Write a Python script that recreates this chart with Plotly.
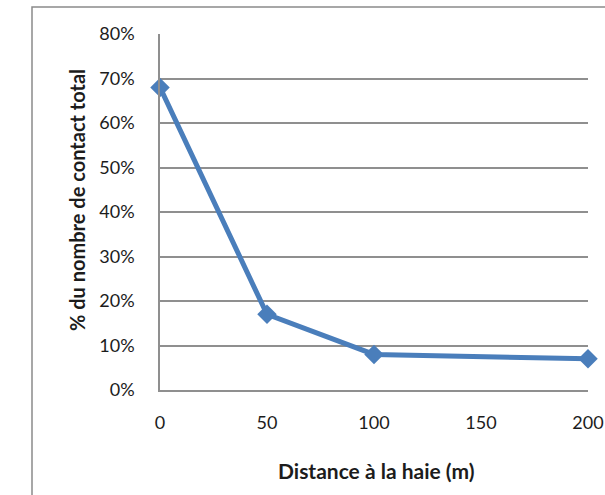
import plotly.graph_objects as go

# Share of total contacts by distance from the hedge
distance_m = [0, 50, 100, 200]
share_pct = [68, 17, 8, 7]
x_ticks = [0, 50, 100, 150, 200]
y_ticks = [0, 10, 20, 30, 40, 50, 60, 70, 80]
y_tick_labels = [f"{v}%" for v in y_ticks]

FONT = "Lato, 'Open Sans', sans-serif"
TEXT = "#1c1c1c"
GRID = "#8f8f8f"
BLUE = "#4a7ebb"

W, H = 605, 495
L, R, T, B = 160, 17, 34, 105
PW, PH = W - L - R, H - T - B


def px(xp):
    return (xp - L) / PW


def py(yp):
    return (H - B - yp) / PH


fig = go.Figure()
fig.add_trace(go.Scatter(
    x=distance_m,
    y=share_pct,
    mode="lines+markers",
    line=dict(color=BLUE, width=5),
    marker=dict(symbol="diamond", size=15, color=BLUE),
    cliponaxis=False,
    showlegend=False,
))

fig.update_layout(
    width=W,
    height=H,
    margin=dict(l=L, r=R, t=T, b=B, autoexpand=False),
    paper_bgcolor="white",
    plot_bgcolor="white",
    font=dict(family=FONT, size=18, color=TEXT),
    xaxis=dict(
        range=[0, 200],
        tickvals=x_ticks,
        ticktext=[str(v) for v in x_ticks],
        showgrid=False,
        zeroline=False,
        showline=True,
        linecolor=GRID,
        linewidth=1.5,
        ticks="",
        ticklabelstandoff=16,
        automargin=False,
        tickfont=dict(family=FONT, size=18, color=TEXT),
    ),
    yaxis=dict(
        range=[0, 80],
        tickvals=y_ticks,
        ticktext=y_tick_labels,
        showgrid=True,
        gridcolor=GRID,
        gridwidth=1.5,
        zeroline=False,
        showline=True,
        linecolor=GRID,
        linewidth=1.5,
        ticks="",
        ticklabelstandoff=20,
        automargin=False,
        tickfont=dict(family=FONT, size=18, color=TEXT),
    ),
    annotations=[
        dict(
            text="<b>% du nombre de contact total</b>",
            xref="paper", yref="paper",
            x=px(77), y=py(200),
            showarrow=False, textangle=-90,
            font=dict(family=FONT, size=20, color=TEXT),
            xanchor="center", yanchor="middle",
        ),
        dict(
            text="<b>Distance à la haie (m)</b>",
            xref="paper", yref="paper",
            x=px(376), y=py(470),
            showarrow=False,
            font=dict(family=FONT, size=21, color=TEXT),
            xanchor="center", yanchor="middle",
        ),
    ],
    shapes=[
        # chart-area frame
        dict(
            type="rect", xref="paper", yref="paper",
            x0=px(32), x1=px(640), y0=py(530), y1=py(7),
            line=dict(color="#8a8a8a", width=1.5),
            fillcolor="rgba(0,0,0,0)",
            layer="below",
        ),
    ],
)

fig.write_html("out.html")
